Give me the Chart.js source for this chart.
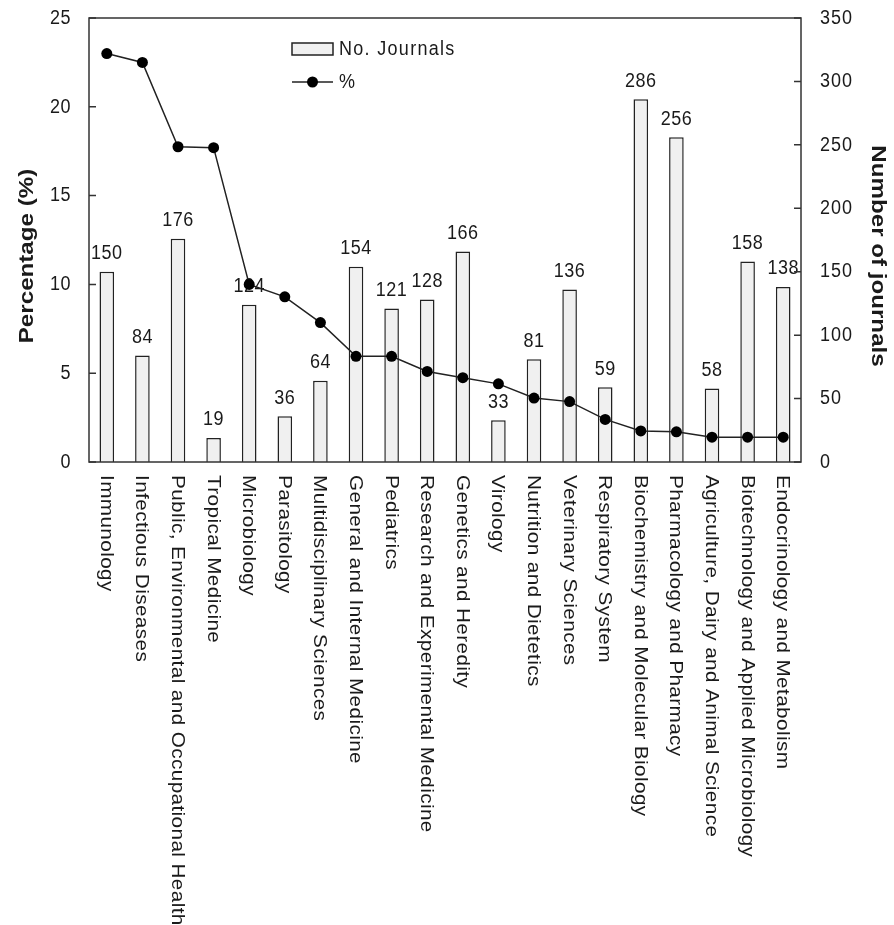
<!DOCTYPE html>
<html>
<head>
<meta charset="utf-8">
<script src="https://cdn.jsdelivr.net/npm/chart.js@4.4.1/dist/chart.umd.min.js"></script>
<style>
html,body{margin:0;padding:0;background:#fff;}
canvas{display:block;}
</style>
</head>
<body>
<canvas id="c" width="894" height="925"></canvas>
<script>
const categories = ["Immunology","Infectious Diseases","Public, Environmental and Occupational Health","Tropical Medicine","Microbiology","Parasitology","Multidisciplinary Sciences","General and Internal Medicine","Pediatrics","Research and Experimental Medicine","Genetics and Heredity","Virology","Nutrition and Dietetics","Veterinary Sciences","Respiratory System","Biochemistry and Molecular Biology","Pharmacology and Pharmacy","Agriculture, Dairy and Animal Science","Biotechnology and Applied Microbiology","Endocrinology and Metabolism"];
const journals = [150,84,176,19,124,36,64,154,121,128,166,33,81,136,59,286,256,58,158,138];
const percent = [23.0,22.5,17.75,17.7,10.0,9.3,7.85,5.95,5.95,5.1,4.75,4.4,3.6,3.4,2.4,1.75,1.7,1.4,1.4,1.4];
const leftTicks = [0,5,10,15,20,25];
const rightTicks = [0,50,100,150,200,250,300,350];
const leftTitle = "Percentage (%)";
const rightTitle = "Number of journals";
const legendBar = "No. Journals";
const legendLine = "%";

const FONT = '"Liberation Sans", Arial, sans-serif';
const TXT = '#1a1a1a';
const STR = 1.15;

function stretchedText(ctx, text, x, y, opts) {
  ctx.save();
  ctx.translate(x, y);
  if (opts.rot) ctx.rotate(opts.rot);
  if (opts.rot) ctx.scale(STR, 1); else ctx.scale(1, STR);
  ctx.font = opts.font;
  ctx.fillStyle = TXT;
  ctx.textAlign = opts.align || 'left';
  ctx.textBaseline = opts.base || 'middle';
  if ('letterSpacing' in ctx) ctx.letterSpacing = (opts.ls || 0) + 'px';
  ctx.fillText(text, 0, 0);
  ctx.restore();
}

const decor = {
  id: 'decor',
  afterDatasetDraw(chart, args) {
    if (args.index !== 0) return;
    const ctx = chart.ctx;
    const meta = chart.getDatasetMeta(0);
    meta.data.forEach((bar, i) => {
      stretchedText(ctx, String(journals[i]), bar.x, bar.y - 12.5, {font: '18px ' + FONT, align: 'center', base: 'alphabetic', ls: 0.5});
    });
  },
  afterDraw(chart) {
    const ctx = chart.ctx;
    const a = chart.chartArea;
    const yL = chart.scales.y, yR = chart.scales.y1, x = chart.scales.x;
    ctx.save();
    ctx.strokeStyle = '#333';
    ctx.lineWidth = 1.5;
    ctx.strokeRect(a.left, a.top, a.right - a.left, a.bottom - a.top);
    ctx.beginPath();
    leftTicks.forEach(v => { const p = yL.getPixelForValue(v); ctx.moveTo(a.left, p); ctx.lineTo(a.left + 7, p); });
    rightTicks.forEach(v => { const p = yR.getPixelForValue(v); ctx.moveTo(a.right, p); ctx.lineTo(a.right - 7, p); });
    ctx.stroke();
    ctx.restore();

    leftTicks.forEach(v => stretchedText(ctx, String(v), a.left - 18, yL.getPixelForValue(v), {font: '18px ' + FONT, align: 'right', ls: 0.5}));
    rightTicks.forEach(v => stretchedText(ctx, String(v), a.right + 19, yR.getPixelForValue(v), {font: '18px ' + FONT, align: 'left', ls: 1}));

    categories.forEach((c, i) => {
      stretchedText(ctx, c, x.getPixelForValue(i) - 1, a.bottom + 13, {font: '18px ' + FONT, align: 'left', rot: Math.PI / 2, ls: 0.35});
    });

    const midY = 256;
    stretchedText(ctx, leftTitle, 27, midY, {font: 'bold 21px ' + FONT, align: 'center', rot: -Math.PI / 2});
    stretchedText(ctx, rightTitle, 878, midY, {font: 'bold 21px ' + FONT, align: 'center', rot: Math.PI / 2});

    // legend
    ctx.save();
    ctx.fillStyle = '#f0f0f0';
    ctx.strokeStyle = '#222';
    ctx.lineWidth = 1.5;
    ctx.fillRect(292, 43, 41, 12);
    ctx.strokeRect(292, 43, 41, 12);
    ctx.beginPath();
    ctx.moveTo(292, 82); ctx.lineTo(333, 82);
    ctx.stroke();
    ctx.fillStyle = '#000';
    ctx.beginPath(); ctx.arc(312.5, 82, 5.5, 0, Math.PI * 2); ctx.fill();
    ctx.restore();
    stretchedText(ctx, legendBar, 339, 49, {font: '18px ' + FONT, align: 'left', ls: 1.3});
    stretchedText(ctx, legendLine, 339, 82, {font: '18px ' + FONT, align: 'left', ls: 1});
  }
};

new Chart(document.getElementById('c'), {
  data: {
    labels: categories,
    datasets: [
      {type: 'bar', label: legendBar, data: journals, yAxisID: 'y1', order: 2,
       backgroundColor: '#f0f0f0', borderColor: '#222', borderWidth: 1.5,
       barPercentage: 0.41, categoryPercentage: 1.0},
      {type: 'line', label: legendLine, data: percent, yAxisID: 'y', order: 1,
       borderColor: '#222', borderWidth: 1.5, pointRadius: 5.5, pointHoverRadius: 5.5,
       pointBackgroundColor: '#000', pointBorderWidth: 0, tension: 0, fill: false}
    ]
  },
  options: {
    responsive: false,
    animation: false,
    devicePixelRatio: 1,
    layout: {padding: {top: 18, left: 0, right: 0, bottom: 0}},
    plugins: {legend: {display: false}, tooltip: {enabled: false}},
    scales: {
      x: {type: 'category', grid: {display: false}, border: {display: false}, ticks: {display: false},
          afterFit(s) { s.height = 925 - 462 - 0; }},
      y: {position: 'left', min: 0, max: 25, grid: {display: false}, border: {display: false},
          ticks: {display: false, stepSize: 5}, afterFit(s) { s.width = 89; }},
      y1: {position: 'right', min: 0, max: 350, grid: {display: false}, border: {display: false},
          ticks: {display: false, stepSize: 50}, afterFit(s) { s.width = 93; }}
    }
  },
  plugins: [decor]
});
</script>
</body>
</html>
